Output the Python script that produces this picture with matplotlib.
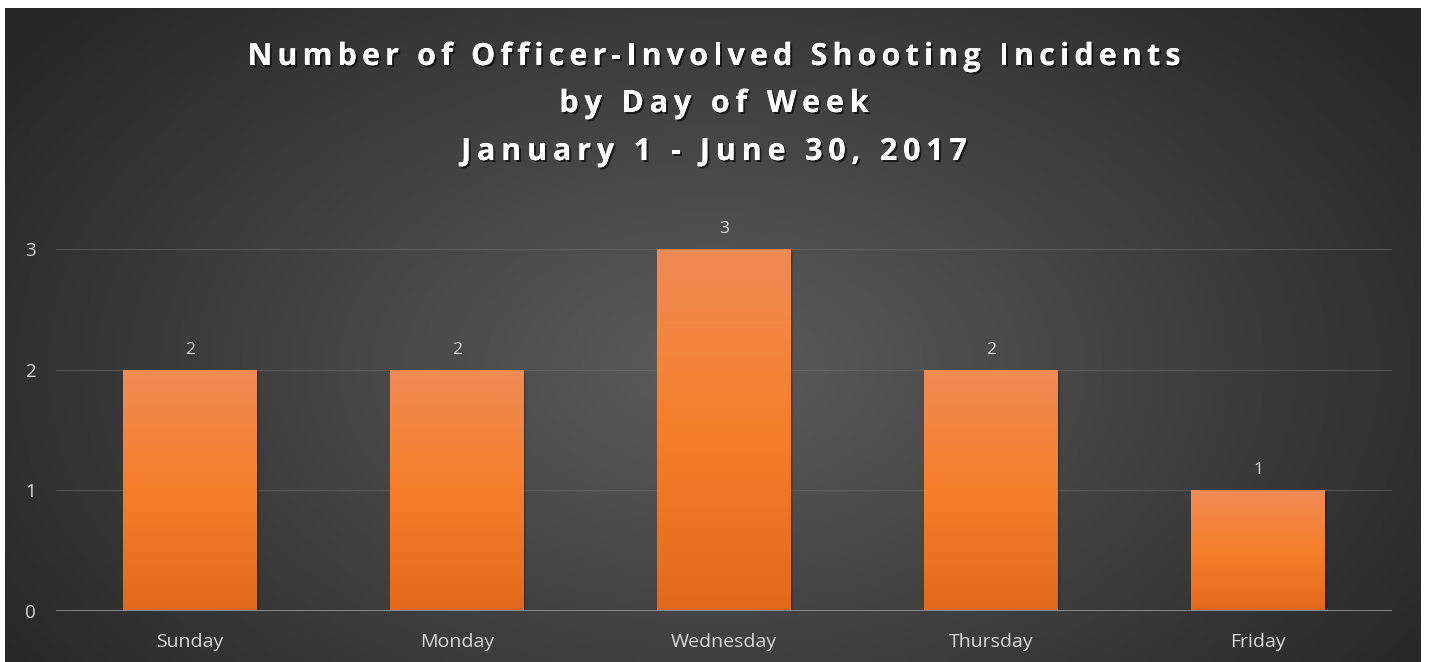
import numpy as np
import matplotlib
matplotlib.use("Agg")
import matplotlib.pyplot as plt
import matplotlib.patheffects as pe
from matplotlib.colors import LinearSegmentedColormap
from matplotlib import font_manager
from matplotlib.font_manager import FontProperties
from matplotlib.ft2font import FT2Font

days = ["Sunday", "Monday", "Wednesday", "Thursday", "Friday"]
counts = [2, 2, 3, 2, 1]
yticks = [0, 1, 2, 3]
title_lines = ["Number of Officer-Involved Shooting Incidents",
               "by Day of Week",
               "January 1 - June 30, 2017"]

W, H = 1430, 662
DPI = 100
fig = plt.figure(figsize=(W / DPI, H / DPI), dpi=DPI)
fig.patch.set_facecolor("white")


def char_advances(text, family, weight, size):
    prop = FontProperties(family=family, weight=weight)
    f = FT2Font(font_manager.findfont(prop))
    f.set_size(size, DPI)
    adv = []
    for c in text:
        try:
            g = f.load_char(ord(c), flags=matplotlib.ft2font.LoadFlags.NO_HINTING)
        except AttributeError:
            g = f.load_char(ord(c), flags=matplotlib.ft2font.LOAD_NO_HINTING)
        adv.append(g.linearHoriAdvance / 65536.0)
    return adv


def tracked_text(xc, yc, text, size, track, family="Open Sans", weight="bold",
                 color="white", effects=None):
    adv = char_advances(text, family, weight, size)
    total = sum(adv) + track * (len(text) - 1)
    xp = xc - total / 2
    for c, a in zip(text, adv):
        if c != " ":
            fig.text(xp / W, 1 - yc / H, c, ha="left", va="center",
                     color=color, fontsize=size, fontweight=weight,
                     family=family, path_effects=effects)
        xp += a + track


# dark panel with radial gradient
px0, px1, py0, py1 = 5, 1421, 8, 662
bg = fig.add_axes([px0 / W, 0, (px1 - px0) / W, (py1 - py0) / H])
bg.set_axis_off()
nx, ny = 400, 200
xx, yy = np.meshgrid(np.linspace(0, 1, nx), np.linspace(0, 1, ny))
cx, cy = 0.50, 0.55
r = np.sqrt(((xx - cx) / 0.62) ** 2 + ((yy - cy) / 0.85) ** 2)
r = np.clip(r, 0, 1)
inner = np.array([0x5c, 0x5c, 0x5c]) / 255
outer = np.array([0x26, 0x26, 0x26]) / 255
img = inner[None, None, :] * (1 - r[..., None]) + outer[None, None, :] * r[..., None]
bg.imshow(img, extent=[0, 1, 0, 1], origin="upper", aspect="auto")
bg.set_xlim(0, 1)
bg.set_ylim(0, 1)

# main axes
ax_left, ax_right = 56.5, 1391.5
ax_bottom, ax_top = 611, 188.5
ax = fig.add_axes([ax_left / W, (H - ax_bottom) / H,
                   (ax_right - ax_left) / W, (ax_bottom - ax_top) / H])
ax.patch.set_alpha(0)
x = np.arange(len(days))

for yv in yticks[1:]:
    ax.axhline(yv, color="#6a6a6a", lw=0.8, alpha=0.6, zorder=1)
ax.axhline(0, color="#8f8f8f", lw=2, zorder=4)

cmap = LinearSegmentedColormap.from_list("og", ["#e2691b", "#f57f2a", "#f08b55"])
grad = np.linspace(0, 1, 256).reshape(-1, 1)
bars = ax.bar(x, counts, width=0.5, color="none", zorder=3)
for b, v in zip(bars, counts):
    bx, bw = b.get_x(), b.get_width()
    for k, al in enumerate([0.12, 0.08, 0.04]):
        sh = plt.Rectangle((bx + 0.004 * (k + 1), 0), bw, v - 0.01 * (k + 1),
                           color="black", alpha=al, zorder=2, lw=0)
        ax.add_patch(sh)
    im = ax.imshow(grad, extent=[bx, bx + bw, 0, v], origin="lower",
                   cmap=cmap, aspect="auto", zorder=3)
    im.set_clip_path(b)
    ax.text(bx + bw / 2, v + 0.10, str(v), ha="center", va="bottom",
            color="#d9d9d9", fontsize=12.5, family="Open Sans")
ax.set_xlim(-0.5, len(days) - 0.5)
ax.set_ylim(0, 3.5)

ax.set_xticks(x)
ax.set_xticklabels(days, color="#d9d9d9", fontsize=14, family="Open Sans")
ax.set_yticks(yticks)
ax.set_yticklabels([str(t) for t in yticks], color="#d9d9d9", fontsize=13.5,
                   family="Open Sans")
ax.tick_params(axis="both", length=0)
ax.tick_params(axis="x", pad=16)
ax.tick_params(axis="y", pad=15)
for s in ax.spines.values():
    s.set_visible(False)

shadow = [pe.withSimplePatchShadow(offset=(1.5, -1.5), shadow_rgbFace="black",
                                   alpha=0.6),
          pe.Normal()]
title_y = [57, 104, 152]
title_track = [5.1, 5.8, 5.8]
for t, yp, tr in zip(title_lines, title_y, title_track):
    tracked_text(714, yp, t, 22, tr, weight="bold", effects=shadow)

fig.savefig("out.png", dpi=DPI, facecolor=fig.get_facecolor())
